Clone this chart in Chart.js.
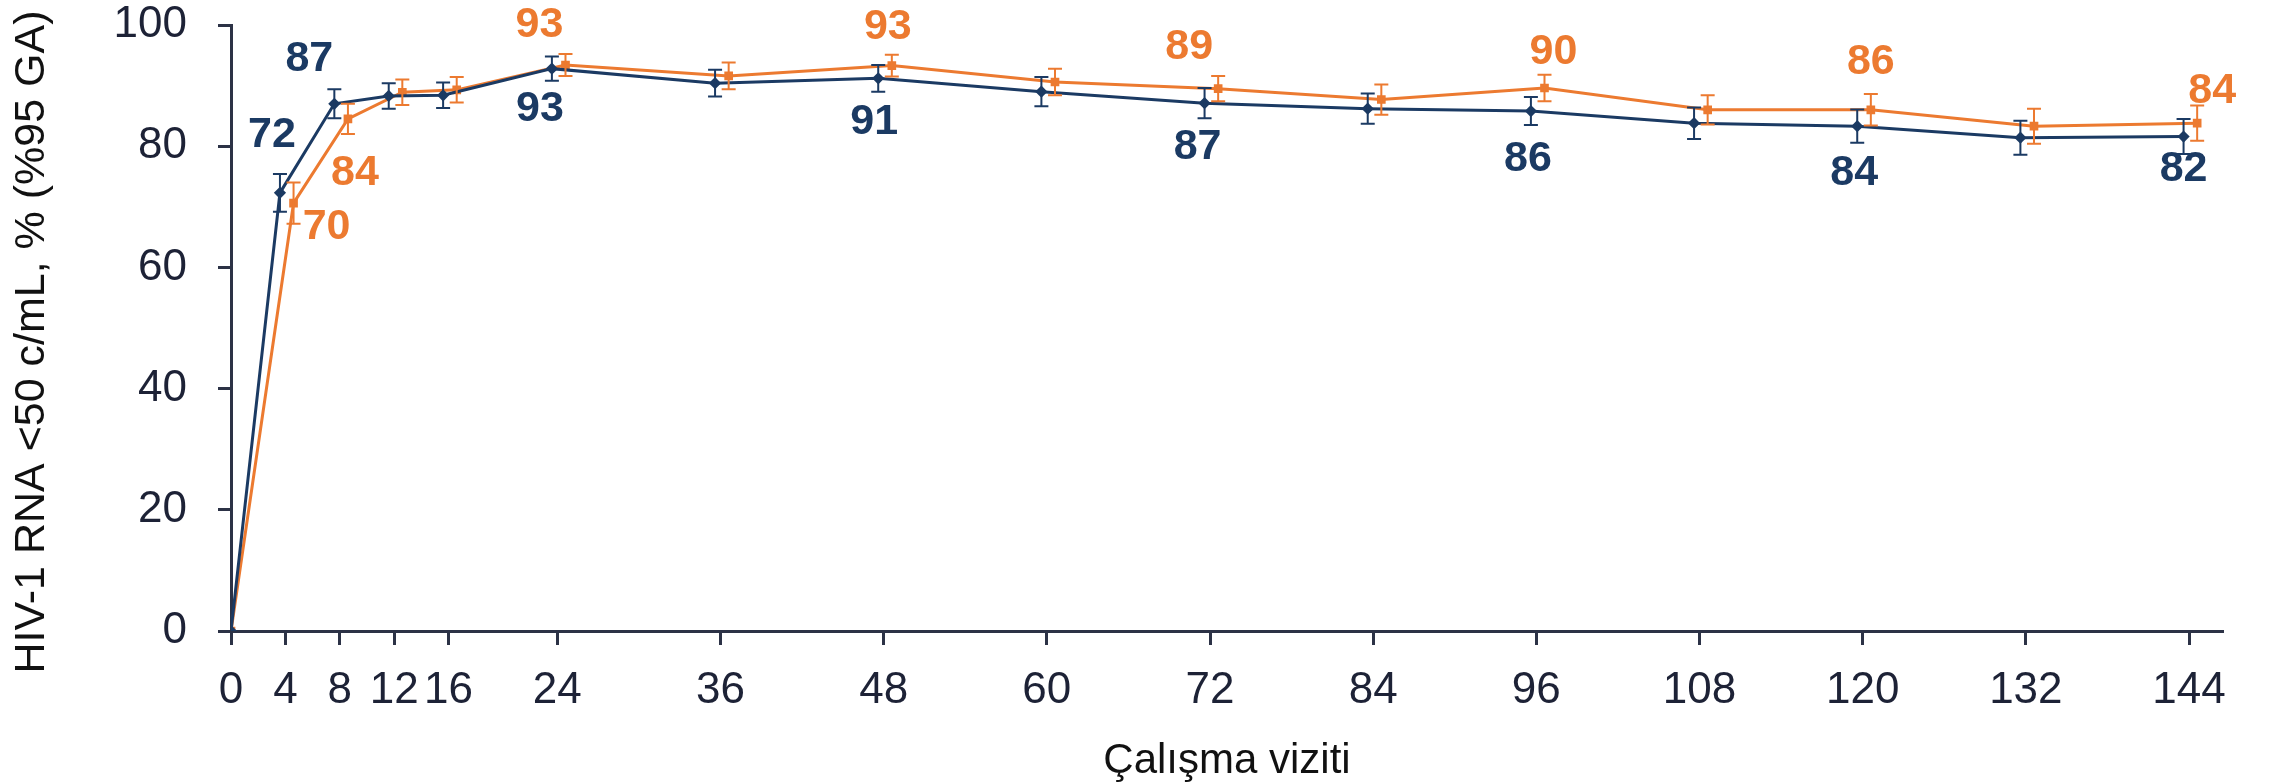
<!DOCTYPE html>
<html lang="tr">
<head>
<meta charset="UTF-8">
<title>HIV-1 RNA &lt;50 c/mL</title>
<script src="https://cdn.jsdelivr.net/npm/chart.js@4.4.1/dist/chart.umd.min.js"></script>
<style>
    html, body { margin: 0; padding: 0; background: #ffffff; }
    #chartBox { width: 2287px; height: 782px; }
</style>
</head>
<body>
<div id="chartBox"><canvas id="virusChart" width="2287" height="782"></canvas></div>
<script>
// Study visits (weeks) and tick labels
const weeks = [0, 4, 8, 12, 16, 24, 36, 48, 60, 72, 84, 96, 108, 120, 132, 144];
const yTicks = [0, 20, 40, 60, 80, 100];

// Blue arm: % with HIV-1 RNA <50 c/mL and half width of the 95% CI
const blueValues = [0, 72.3, 87.0, 88.3, 88.4, 92.8, 90.4, 91.2, 89.0, 87.1, 86.2, 85.8, 83.8, 83.3, 81.4, 81.6];
const blueErrors = [0, 3.1, 2.4, 2.1, 2.1, 2.0, 2.2, 2.2, 2.4, 2.5, 2.5, 2.3, 2.6, 2.75, 2.8, 2.9];
const blueLabels = ['', '72', '87', '', '', '93', '', '91', '', '87', '', '86', '', '84', '', '82'];

// Orange arm
const orangeValues = [0, 70.6, 84.5, 88.9, 89.3, 93.4, 91.6, 93.3, 90.6, 89.5, 87.7, 89.6, 86.0, 86.0, 83.3, 83.8];
const orangeErrors = [0, 3.4, 2.5, 2.1, 2.1, 1.8, 2.2, 1.8, 2.2, 2.1, 2.5, 2.2, 2.4, 2.6, 2.9, 2.9];
const orangeLabels = ['', '70', '84', '', '', '93', '', '93', '', '89', '', '90', '', '86', '', '84'];

const yTitle = 'HIV-1 RNA <50 c/mL, % (%95 GA)';
const xTitle = 'Çalışma viziti';

const BLUE = '#1b3a63';
const ORANGE = '#ec7a30';
const AXIS = '#2c3246';
const FONT = '"Liberation Sans", Arial, sans-serif';

// Where each value label sits relative to its point (px)
const labelOffsets = [
    { 1: [-8, -58], 2: [-25, -45], 5: [-12, 41], 7: [-4, 44], 9: [-7, 44], 11: [-3, 48], 13: [-3, 47], 15: [0, 33] },
    { 1: [33, 24], 2: [7, 54], 5: [-26, -40], 7: [-4, -38], 9: [-29, -41], 11: [9, -36], 13: [0, -48], 15: [15, -32] }
];

// Small horizontal nudge so the two arms do not sit on top of each other
function toPoints(values, shift) {
    return values.map((v, i) => ({ x: i === 0 ? weeks[i] : weeks[i] + shift, y: v }));
}

// Draw 95% CI bars, the value labels and the rotated y title
const errorBarsAndLabels = {
    id: 'errorBarsAndLabels',
    afterDatasetsDraw(chart) {
        const ctx = chart.ctx;
        const yScale = chart.scales.y;
        ctx.save();
        chart.data.datasets.forEach((ds, di) => {
            const meta = chart.getDatasetMeta(di);
            ctx.strokeStyle = ds.borderColor;
            ctx.lineWidth = 2;
            meta.data.forEach((pt, i) => {
                const err = ds.errors[i];
                if (!err) return;
                const v = ds.data[i].y;
                const top = yScale.getPixelForValue(v + err);
                const bottom = yScale.getPixelForValue(v - err);
                ctx.beginPath();
                ctx.moveTo(pt.x, top);
                ctx.lineTo(pt.x, bottom);
                ctx.moveTo(pt.x - 7, top);
                ctx.lineTo(pt.x + 7, top);
                ctx.moveTo(pt.x - 7, bottom);
                ctx.lineTo(pt.x + 7, bottom);
                ctx.stroke();
            });
        });
        ctx.font = 'bold 43px ' + FONT;
        ctx.textAlign = 'center';
        ctx.textBaseline = 'middle';
        chart.data.datasets.forEach((ds, di) => {
            const meta = chart.getDatasetMeta(di);
            ctx.fillStyle = ds.borderColor;
            meta.data.forEach((pt, i) => {
                const text = ds.valueLabels[i];
                if (!text) return;
                const off = labelOffsets[di][i] || [0, 0];
                ctx.fillText(text, pt.x + off[0], pt.y + off[1]);
            });
        });

        // y title, a bit below the middle of the plot like the original
        const area = chart.chartArea;
        ctx.translate(32, (area.top + area.bottom) / 2 + 14);
        ctx.rotate(-Math.PI / 2);
        ctx.font = '43px ' + FONT;
        ctx.fillStyle = '#111111';
        ctx.fillText(yTitle, 0, 0);
        ctx.restore();
    }
};

function initializeVirusChart() {
    const ctx = document.getElementById('virusChart');
    if (!ctx) return;

    new Chart(ctx, {
        type: 'line',
        data: {
            datasets: [{
                label: 'Kol 1',
                data: toPoints(blueValues, -0.4),
                errors: blueErrors,
                valueLabels: blueLabels,
                borderColor: BLUE,
                backgroundColor: BLUE,
                borderWidth: 3,
                pointStyle: 'rectRot',
                pointRadius: 4,
                tension: 0,
                order: 1
            }, {
                label: 'Kol 2',
                data: toPoints(orangeValues, 0.6),
                errors: orangeErrors,
                valueLabels: orangeLabels,
                borderColor: ORANGE,
                backgroundColor: ORANGE,
                borderWidth: 3,
                pointStyle: 'rect',
                pointRadius: 4,
                tension: 0,
                order: 2
            }]
        },
        options: {
            responsive: false,
            animation: false,
            layout: { padding: { top: 25, right: 64, left: 0, bottom: 0 } },
            plugins: {
                legend: { display: false },
                tooltip: { enabled: false }
            },
            scales: {
                x: {
                    type: 'linear',
                    min: 0,
                    max: 146.5,
                    afterBuildTicks: scale => { scale.ticks = weeks.map(w => ({ value: w })); },
                    afterFit: scale => {
                        scale.height = 151;
                        scale.paddingLeft = 0;
                        scale.paddingRight = 0;
                    },
                    border: { color: AXIS, width: 3 },
                    grid: { drawOnChartArea: false, color: AXIS, tickLength: 14, tickWidth: 3 },
                    ticks: {
                        autoSkip: false,
                        maxRotation: 0,
                        padding: 19,
                        color: '#1d2236',
                        font: { family: FONT, size: 44 }
                    },
                    title: {
                        display: true,
                        text: xTitle,
                        color: '#111111',
                        padding: { top: 0, bottom: 0 },
                        font: { family: FONT, size: 42, lineHeight: 1.0 }
                    }
                },
                y: {
                    min: 0,
                    max: 100,
                    afterBuildTicks: scale => { scale.ticks = yTicks.map(v => ({ value: v })); },
                    afterFit: scale => {
                        scale.width = 231;
                        scale.paddingTop = 0;
                        scale.paddingBottom = 0;
                    },
                    border: { color: AXIS, width: 3 },
                    grid: { drawOnChartArea: false, color: AXIS, tickLength: 13, tickWidth: 3 },
                    ticks: {
                        padding: 31,
                        color: '#1d2236',
                        font: { family: FONT, size: 44 }
                    }
                }
            }
        },
        plugins: [errorBarsAndLabels]
    });
}

document.addEventListener('DOMContentLoaded', initializeVirusChart);
</script>
</body>
</html>
